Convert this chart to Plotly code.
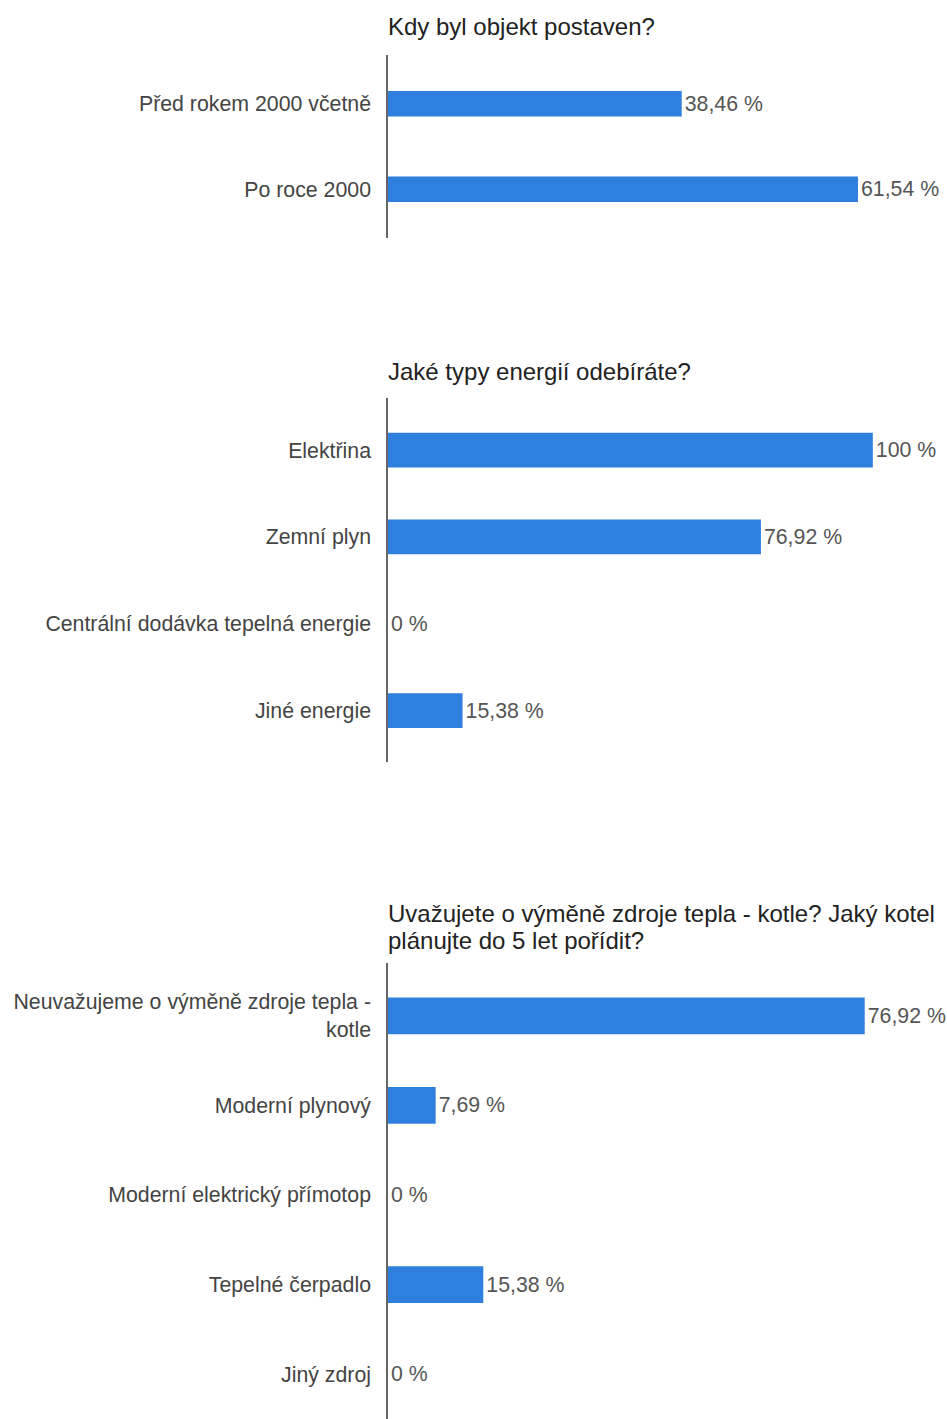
import plotly.graph_objects as go

W, H = 947, 1419

# ---- data ----
title1 = ["Kdy byl objekt postaven?"]
cats1 = ["Před rokem 2000 včetně", "Po roce 2000"]
vals1 = [38.46, 61.54]

title2 = ["Jaké typy energií odebíráte?"]
cats2 = ["Elektřina", "Zemní plyn", "Centrální dodávka tepelná energie", "Jiné energie"]
vals2 = [100, 76.92, 0, 15.38]

title3 = ["Uvažujete o výměně zdroje tepla - kotle? Jaký kotel",
          "plánujte do 5 let pořídit?"]
cats3 = ["Neuvažujeme o výměně zdroje tepla -<br>kotle", "Moderní plynový",
         "Moderní elektrický přímotop", "Tepelné čerpadlo", "Jiný zdroj"]
vals3 = [76.92, 7.69, 0, 15.38, 0]

BAR = "#2F7FDF"
FONT = "Liberation Sans, Arial, sans-serif"


def fmt(v):
    s = ("%.2f" % v).rstrip("0").rstrip(".")
    return s.replace(".", ",") + " %"


def py(p):  # pixel from top -> paper fraction
    return 1 - p / H


x0 = 388 / W

panels = [
    # cats, vals, title lines, title_y_px, top_px, bottom_px, yrange, xmax, barwidth
    (cats1, vals1, title1, 27, 55, 238, [1.57, -0.57], 73.2, 0.3),
    (cats2, vals2, title2, 371, 398, 762, [3.59, -0.6], 115.3, 0.4),
    (cats3, vals3, title3, 913, 963, 1419, [4.5, -0.59], 90.2, 0.41),
]

fig = go.Figure()
annotations = []
for i, (cats, vals, title, ty, top, bot, yr, xmax, bw) in enumerate(panels, start=1):
    sfx = "" if i == 1 else str(i)
    fig.add_trace(go.Bar(
        x=vals, y=cats, orientation="h",
        marker=dict(color=BAR, line=dict(width=0)),
        width=bw,
        text=[fmt(v) for v in vals], textposition="outside",
        textfont=dict(family=FONT, size=21.3, color="#555555"),
        cliponaxis=False,
        xaxis="x" + sfx, yaxis="y" + sfx,
        hoverinfo="skip", showlegend=False,
    ))
    fig.layout["xaxis" + sfx] = dict(
        domain=[x0, 1], range=[0, xmax],
        visible=False,
        anchor="y" + sfx, showgrid=False, zeroline=False, fixedrange=True,
    )
    fig.layout["yaxis" + sfx] = dict(
        domain=[max(0, py(bot)), py(top)], anchor="x" + sfx,
        type="category", categoryorder="array", categoryarray=cats,
        range=yr, showline=True, linecolor="#666666", linewidth=1.5,
        showgrid=False, zeroline=False, ticks="",
        ticklabelstandoff=11,
        tickfont=dict(family=FONT, size=21.3, color="#444444"),
        fixedrange=True,
    )
    for k, line in enumerate(title):
        annotations.append(dict(
            text=line, x=x0, y=py(ty + 27 * k), xref="paper", yref="paper",
            xanchor="left", yanchor="middle", align="left", showarrow=False,
            xshift=-2,
            font=dict(family=FONT, size=24, color="#222222"),
        ))

fig.update_layout(
    width=W, height=H,
    margin=dict(l=0, r=0, t=0, b=0),
    paper_bgcolor="white", plot_bgcolor="white",
    annotations=annotations,
)

fig.write_html(
    "out.html",
    config={"displayModeBar": False},
    post_script="document.body.style.margin='0';document.body.style.overflow='hidden';",
)
